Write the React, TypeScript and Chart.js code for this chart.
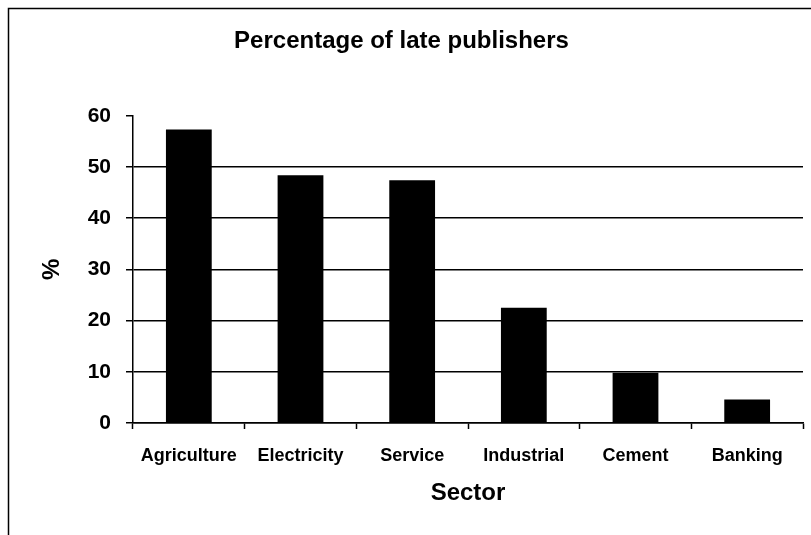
import React, { useEffect, useRef } from "react";
import { Chart, registerables } from "chart.js";

Chart.register(...registerables);

const chartTitle = "Percentage of late publishers";
const xAxisTitle = "Sector";
const yAxisTitle = "%";
const sectors = ["Agriculture", "Electricity", "Service", "Industrial", "Cement", "Banking"];
const latePercent = [57.3, 48.4, 47.4, 22.5, 9.8, 4.6];
const yMin = 0;
const yMax = 60;
const yStep = 10;

const FONT = "'Liberation Sans', Arial, sans-serif";

const framePlugin = {
  id: "frame",
  beforeDraw(chart: any) {
    const { ctx, width, height } = chart;
    ctx.save();
    ctx.fillStyle = "#fff";
    ctx.fillRect(0, 0, width, height);
    ctx.strokeStyle = "#000";
    ctx.lineWidth = 1.5;
    ctx.beginPath();
    ctx.moveTo(8.5, height);
    ctx.lineTo(8.5, 8.5);
    ctx.lineTo(width, 8.5);
    ctx.stroke();
    ctx.restore();
  },
};

export default function App() {
  const ref = useRef<HTMLCanvasElement | null>(null);

  useEffect(() => {
    if (!ref.current) return;
    const chart = new Chart(ref.current, {
      type: "bar",
      data: {
        labels: sectors,
        datasets: [
          {
            label: chartTitle,
            data: latePercent,
            backgroundColor: "#000",
            borderWidth: 0,
            barPercentage: 0.41,
            categoryPercentage: 1,
          },
        ],
      },
      options: {
        animation: false,
        responsive: false,
        maintainAspectRatio: false,
        layout: { padding: { left: 0, right: 8, top: 0, bottom: 0 } },
        plugins: {
          legend: { display: false },
          tooltip: { enabled: false },
          title: {
            display: true,
            text: chartTitle,
            color: "#000",
            font: { family: FONT, size: 24, weight: "bold" },
            padding: { top: 27, bottom: 60 },
          },
        },
        scales: {
          x: {
            type: "category",
            offset: true,
            grid: {
              display: true,
              drawOnChartArea: false,
              drawTicks: true,
              offset: true,
              tickLength: 6,
              tickWidth: 1.5,
              tickColor: "#000",
              color: "#000",
            },
            border: { display: true, color: "#000", width: 1.5 },
            ticks: {
              color: "#000",
              font: { family: FONT, size: 18, weight: "bold" },
              padding: 16,
              maxRotation: 0,
              autoSkip: false,
            },
            title: {
              display: true,
              text: xAxisTitle,
              color: "#000",
              font: { family: FONT, size: 24, weight: "bold" },
              padding: { top: 10, bottom: 27 },
            },
            afterFit(scale: any) {
              scale.height = 112;
            },
          },
          y: {
            min: yMin,
            max: yMax,
            grid: {
              display: true,
              drawTicks: true,
              tickLength: 7,
              tickWidth: 1.5,
              tickColor: "#000",
              lineWidth: 1.5,
              color: (c: any) => (c.tick && c.tick.value === yMax ? "rgba(0,0,0,0)" : "#000"),
            },
            border: { display: true, color: "#000", width: 1.5 },
            ticks: {
              stepSize: yStep,
              color: "#000",
              font: { family: FONT, size: 21, weight: "bold" },
              padding: 15,
            },
            title: {
              display: true,
              text: yAxisTitle,
              color: "#000",
              font: { family: FONT, size: 24, weight: "bold" },
              padding: { top: 38, bottom: 0 },
            },
            afterFit(scale: any) {
              scale.width = 133;
            },
          },
        },
      },
      plugins: [framePlugin],
    });
    return () => chart.destroy();
  }, []);

  return (
    <div style={{ position: "absolute", left: 0, top: 0, width: 811, height: 535, background: "#fff" }}>
      <canvas ref={ref} width={811} height={535} style={{ width: 811, height: 535, display: "block" }} />
    </div>
  );
}
